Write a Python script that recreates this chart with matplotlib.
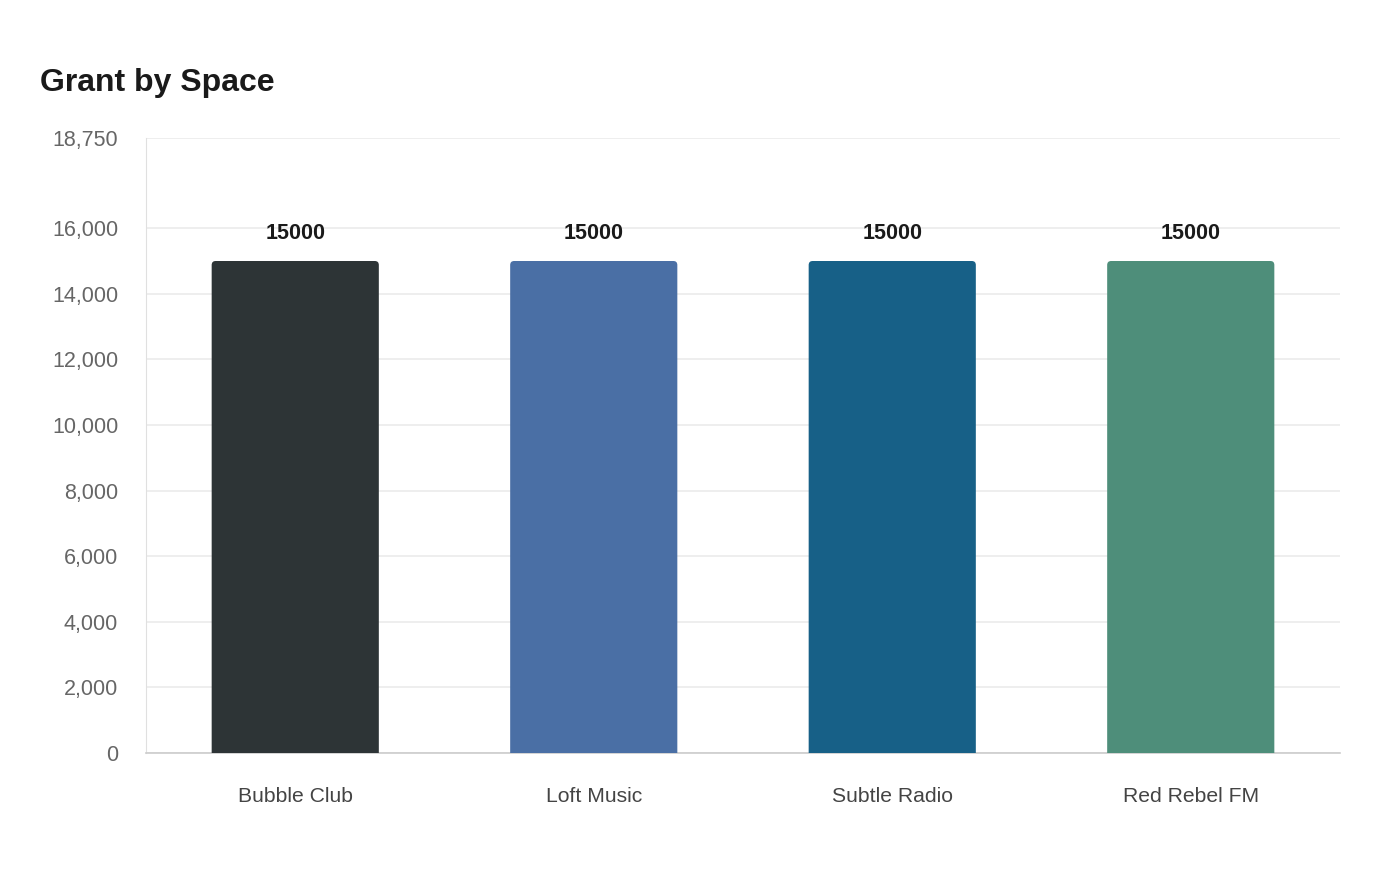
import matplotlib.pyplot as plt
from matplotlib.patches import FancyBboxPatch
from matplotlib.ticker import FuncFormatter

plt.rcParams["font.family"] = ["Liberation Sans", "DejaVu Sans"]

# data
spaces = ["Bubble Club", "Loft Music", "Subtle Radio", "Red Rebel FM"]
grants = [15000, 15000, 15000, 15000]
bar_colors = ["#2d3436", "#4a6fa5", "#176087", "#4e8e7a"]
y_ticks = [0, 2000, 4000, 6000, 8000, 10000, 12000, 14000, 16000, 18750]
y_max = 18750

fig = plt.figure(figsize=(14, 8.8), dpi=100)
ax = fig.add_axes([146 / 1400, 1 - 753 / 880, 1194 / 1400, 615 / 880])

x = range(len(spaces))
bar_width = 0.56
ax.set_xlim(-0.5, len(spaces) - 0.5)
ax.set_ylim(0, y_max)

# rounded top corners: radius in pixels converted to data units
fig.canvas.draw()
bbox = ax.get_window_extent()
px_x = (len(spaces)) / bbox.width
px_y = y_max / bbox.height
radius = 4 * px_x

for i, val, col in zip(x, grants, bar_colors):
    patch = FancyBboxPatch(
        (i - bar_width / 2 + radius, -y_max * 0.05),
        bar_width - 2 * radius,
        val + y_max * 0.05 - radius * px_y / px_x,
        boxstyle=f"round,pad={radius},rounding_size={radius}",
        mutation_aspect=px_y / px_x,
        facecolor=col,
        edgecolor="none",
        zorder=3,
    )
    ax.add_patch(patch)
    ax.annotate(
        str(val),
        (i, val),
        xytext=(0, 19.5),
        textcoords="offset points",
        ha="center",
        va="center",
        fontsize=15.5,
        fontweight="bold",
        color="#1a1a1a",
    )

ax.set_yticks(y_ticks)
ax.yaxis.set_major_formatter(FuncFormatter(lambda v, p: f"{int(v):,}"))
ax.set_xticks(list(x))
ax.set_xticklabels(spaces)

ax.tick_params(axis="y", length=0, pad=20, labelsize=15.5, labelcolor="#666666")
ax.tick_params(axis="x", length=0, pad=24.5, labelsize=15.2, labelcolor="#444444")

ax.grid(axis="y", color="#ebebeb", linewidth=1.2, zorder=0)
ax.set_axisbelow(True)

for side in ["top", "right"]:
    ax.spines[side].set_visible(False)
ax.spines["left"].set_color("#e0e0e0")
ax.spines["bottom"].set_color("#cccccc")
ax.spines["bottom"].set_linewidth(1.2)

fig.text(40 / 1400, 1 - 83 / 880, "Grant by Space", fontsize=23,
         fontweight="bold", color="#1a1a1a", ha="left", va="center")

fig.savefig("out.png", dpi=100, facecolor="white")
